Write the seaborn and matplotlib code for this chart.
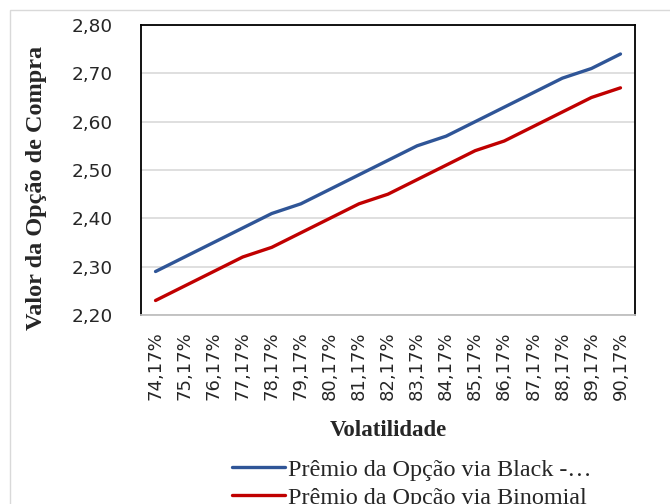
import matplotlib
matplotlib.use("Agg")
import matplotlib.pyplot as plt
import pandas as pd
import seaborn as sns
from matplotlib.patches import Rectangle

# Volatilidade anual (%) usada em cada cenário
volatilidade = [74.17, 75.17, 76.17, 77.17, 78.17, 79.17, 80.17, 81.17, 82.17,
                83.17, 84.17, 85.17, 86.17, 87.17, 88.17, 89.17, 90.17]

# Prêmio da opção de compra por modelo
premio_black = [2.29, 2.32, 2.35, 2.38, 2.41, 2.43, 2.46, 2.49, 2.52,
                2.55, 2.57, 2.60, 2.63, 2.66, 2.69, 2.71, 2.74]
premio_binomial = [2.23, 2.26, 2.29, 2.32, 2.34, 2.37, 2.40, 2.43, 2.45,
                   2.48, 2.51, 2.54, 2.56, 2.59, 2.62, 2.65, 2.67]

serie_black = "Prêmio da Opção via Black -…"
serie_binomial = "Prêmio da Opção via Binomial"
y_ticks = [2.20, 2.30, 2.40, 2.50, 2.60, 2.70, 2.80]

cor_black = "#2F5597"
cor_binomial = "#C00000"

n = len(volatilidade)
df = pd.DataFrame({
    "pos": list(range(n)) * 2,
    "valor": premio_black + premio_binomial,
    "serie": [serie_black] * n + [serie_binomial] * n,
})

sns.set_style("white")
plt.rcParams["font.family"] = ["DejaVu Sans"]

W, H = 670, 504
fig = plt.figure(figsize=(W / 100, H / 100), dpi=100)

# moldura clara da área do gráfico
fig.patches.append(Rectangle((10 / W, -0.1), 1.2, 1 - 10 / H + 0.1,
                             transform=fig.transFigure, fill=False,
                             edgecolor="#d9d9d9", linewidth=1.0))

ax = fig.add_axes([141 / W, 1 - 315 / H, 494 / W, 290 / H])
sns.lineplot(data=df, x="pos", y="valor", hue="serie",
             hue_order=[serie_black, serie_binomial],
             palette=[cor_black, cor_binomial], linewidth=2.4,
             sort=False, errorbar=None, legend=False, ax=ax)
for ln in ax.get_lines():
    ln.set_solid_capstyle("round")
    ln.set_solid_joinstyle("round")

ax.set_xlim(-0.5, n - 0.5)
ax.set_ylim(2.20, 2.80)
ax.set_yticks(y_ticks)
ax.set_yticklabels([f"{v:.2f}".replace(".", ",") for v in y_ticks], fontsize=13.3)
ax.set_xticks(range(n))
ax.set_xticklabels([f"{v:.2f}%".replace(".", ",") for v in volatilidade],
                   rotation=90, fontsize=13)
ax.tick_params(axis="y", length=0, pad=20)
ax.tick_params(axis="x", length=0, pad=12)

ax.yaxis.grid(True, color="#d9d9d9", linewidth=1.2)
ax.set_axisbelow(True)
for side in ["left", "top", "right"]:
    ax.spines[side].set_color("black")
    ax.spines[side].set_linewidth(1.3)
ax.spines["bottom"].set_color("#bfbfbf")
ax.spines["bottom"].set_linewidth(1.3)

ax.set_xlabel("Volatilidade", family="Liberation Serif", fontweight="bold",
              fontsize=16.5)
ax.xaxis.set_label_coords(0.5, -(431 - 315) / 290)
ax.xaxis.label.set_va("center")
ax.set_ylabel("Valor da Opção de Compra", family="Liberation Serif",
              fontweight="bold", fontsize=17.5)
ax.yaxis.set_label_coords((37 - 141) / 494, (315 - 188) / 290)
ax.yaxis.label.set_va("center")

handles = ax.get_lines()[:2]
fig.legend(handles, [serie_black, serie_binomial], loc="upper left",
           bbox_to_anchor=(232 / W, 1 - 459 / H), frameon=False,
           prop={"family": "Liberation Serif", "size": 17.4},
           handlelength=2.2, handletextpad=0.1, labelspacing=0.25,
           borderpad=0, borderaxespad=0)

fig.savefig("out.png", dpi=100)
